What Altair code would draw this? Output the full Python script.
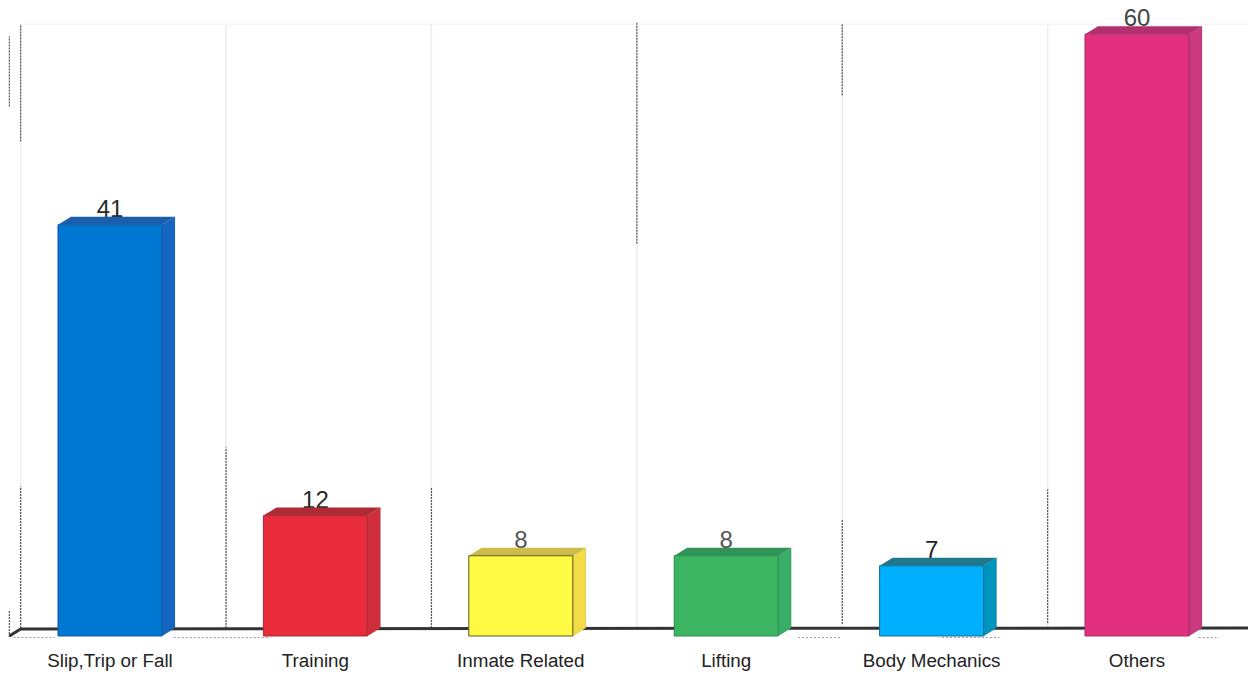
import altair as alt
import pandas as pd

categories = ["Slip,Trip or Fall", "Training", "Inmate Related", "Lifting", "Body Mechanics", "Others"]
values = [41, 12, 8, 8, 7, 60]
front_colors = ["#0078D2", "#E82C3C", "#FFFB45", "#3BB562", "#00B0FF", "#E2307F"]
side_colors = ["#1566C0", "#CF2F3A", "#F3DC48", "#38AE68", "#0093BE", "#CB3A80"]
top_colors = ["#1A5FAE", "#B02A36", "#CDBB4C", "#2F9455", "#20788E", "#B33070"]
edge_colors = ["#14589F", "#A82A34", "#5A5A20", "#2C8A50", "#14708A", "#A82C66"]
label_colors = ["#2A2A2A", "#2A2A2A", "#555555", "#555555", "#222222", "#444444"]

# wall gridlines: position on the category axis
grid_x = [-0.435, 0.565, 1.565, 2.565, 3.565, 4.565, 5.565]
# darker scanned fragments of the gridlines: x, value from, value to
frag_x = [-0.435, -0.435, 0.565, 1.565, 2.565, 3.565, 3.565, 4.565, -0.49, -0.49]
frag_a = [49.3, 0.8, 0.8, 0.8, 39.1, 53.9, 1.2, 1.3, 52.8, -0.1]
frag_b = [61.0, 14.9, 18.8, 14.8, 61.2, 61.1, 11.6, 14.6, 59.8, 2.5]
# back edge of the floor
floor_x = [-0.49, -0.435, 5.57]
floor_y = [0.0, 0.7, 0.8]
# faint dotted front floor fragments
dot_a = [-0.47, 0.31, 3.35, 4.05, 5.3]
dot_b = [-0.27, 0.78, 3.56, 4.33, 5.4]

half_w = 0.2532
depth_x = 0.0633
depth_y = 0.8
base_px = 102
step_px = 205.4
width, height = 1240, 666

x_scale = alt.Scale(domain=[-base_px / step_px, (width - base_px) / step_px], nice=False, zero=False)
y_scale = alt.Scale(domain=[-3.79, 62.61], nice=False, zero=False)
X = lambda f: alt.X(f, type="quantitative", scale=x_scale, axis=None)
Y = lambda f: alt.Y(f, type="quantitative", scale=y_scale, axis=None)

bars = pd.DataFrame({
    "name": categories, "v": values, "i": range(6),
    "front": front_colors, "side": side_colors, "top": top_colors, "edge": edge_colors,
    "lc": label_colors,
})
bars["l"] = bars["i"] - half_w
bars["r"] = bars["i"] + half_w
bars["zero"] = 0
bars["labely"] = bars["v"] + depth_y
bars["namey"] = -3.1

side_rows, top_rows = [], []
for _, b in bars.iterrows():
    for k in (0, 1):
        side_rows.append({"name": b["name"], "c": b["side"], "x": b["r"] + k * depth_x,
                          "y": k * depth_y, "y2": b["v"] + k * depth_y})
        top_rows.append({"name": b["name"], "c": b["top"], "x": b["l"] + k * depth_x,
                         "x2": b["r"] + k * depth_x, "y": b["v"] + k * depth_y})
side_df, top_df = pd.DataFrame(side_rows), pd.DataFrame(top_rows)

grid = alt.Chart(pd.DataFrame({"x": grid_x, "a": 0.8, "b": 61.0})).mark_rule(
    color="#EDEDED", strokeWidth=1.5
).encode(x=X("x"), y=Y("a"), y2="b")

wall_top = alt.Chart(pd.DataFrame({"a": [-0.435], "b": [5.565], "y": [61.0]})).mark_rule(
    color="#F2F2F2", strokeWidth=1
).encode(x=X("a"), x2="b", y=Y("y"))

frags = alt.Chart(pd.DataFrame({"x": frag_x, "a": frag_a, "b": frag_b})).mark_rule(
    color="#555555", strokeWidth=1.2, strokeDash=[2, 1]
).encode(x=X("x"), y=Y("a"), y2="b")

dots = alt.Chart(pd.DataFrame({"a": dot_a, "b": dot_b, "y": -0.15})).mark_rule(
    color="#999999", strokeWidth=1, strokeDash=[2, 2]
).encode(x=X("a"), x2="b", y=Y("y"))

floor = alt.Chart(pd.DataFrame({"x": floor_x, "y": floor_y})).mark_line(
    color="#333333", strokeWidth=3
).encode(x=X("x"), y=Y("y"))

value_text = alt.Chart(bars).mark_text(
    font="Liberation Sans", fontSize=24, baseline="alphabetic", align="center"
).encode(x=X("i"), y=Y("labely"), text=alt.Text("v:Q"), color=alt.Color("lc:N", scale=None))

name_text = alt.Chart(bars).mark_text(
    font="Liberation Sans", fontSize=18.8, baseline="alphabetic", align="center", color="#222222"
).encode(x=X("i"), y=Y("namey"), text="name:N")

side = alt.Chart(side_df).mark_area(orient="vertical", stroke="#00000033", strokeWidth=0.5).encode(
    x=X("x"), y=Y("y"), y2="y2", color=alt.Color("c:N", scale=None), detail="name:N"
)
top = alt.Chart(top_df).mark_area(orient="horizontal").encode(
    y=Y("y"), x=X("x"), x2="x2", color=alt.Color("c:N", scale=None), detail="name:N"
)
front = alt.Chart(bars).mark_rect(strokeWidth=1).encode(
    x=X("l"), x2="r", y=Y("zero"), y2="v",
    color=alt.Color("front:N", scale=None),
    stroke=alt.Stroke("edge:N", scale=None),
)

chart = alt.layer(grid, wall_top, frags, dots, floor, value_text, name_text, side, top, front).properties(
    width=width, height=height, padding=0, background="white",
    autosize=alt.AutoSizeParams(type="none"),
).configure_view(stroke=None)

chart.save("out.html", embed_options={"renderer": "svg", "actions": False})
